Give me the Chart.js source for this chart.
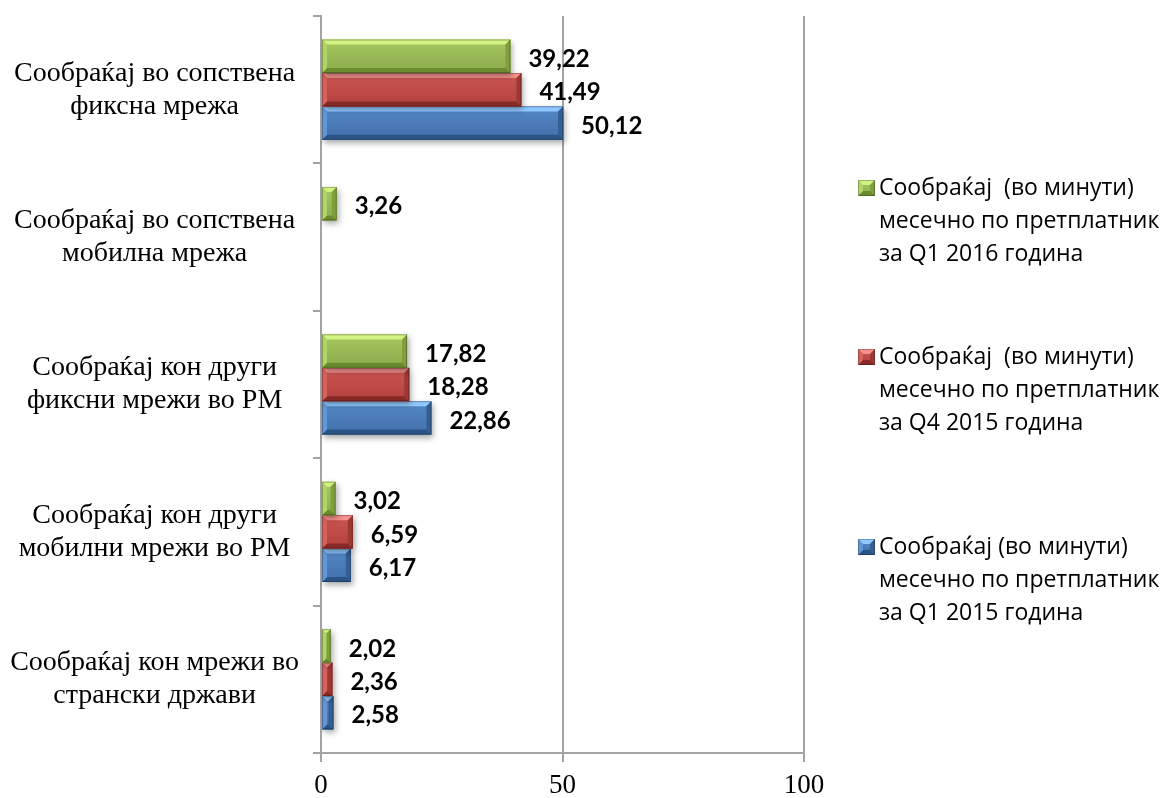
<!DOCTYPE html>
<html>
<head>
<meta charset="utf-8">
<script src="https://cdn.jsdelivr.net/npm/chart.js@4.4.1/dist/chart.umd.min.js"></script>
<style>
  html, body { margin: 0; padding: 0; background: #fff; }
  #wrap { width: 1163px; height: 798px; }
</style>
</head>
<body>
<div id="wrap"><canvas id="chart" width="1163" height="798"></canvas></div>
<script>
// categories (multi-line labels) and series
const categories = [
  ['Сообраќај во сопствена', 'фиксна мрежа'],
  ['Сообраќај во сопствена', 'мобилна мрежа'],
  ['Сообраќај кон други', 'фиксни мрежи во РМ'],
  ['Сообраќај кон други', 'мобилни мрежи во РМ'],
  ['Сообраќај кон мрежи во', 'странски држави']
];
const seriesNames = [
  ['Сообраќај  (во минути)', 'месечно по претплатник', 'за Q1 2016 година'],
  ['Сообраќај  (во минути)', 'месечно по претплатник', 'за Q4 2015 година'],
  ['Сообраќај (во минути)', 'месечно по претплатник', 'за Q1 2015 година']
];
const q1_2016 = [39.22, 3.26, 17.82, 3.02, 2.02];
const q4_2015 = [41.49, null, 18.28, 6.59, 2.36];
const q1_2015 = [50.12, null, 22.86, 6.17, 2.58];
const xTicks = [0, 50, 100];

// styling
const palette = [
  { base: '#9bbb59', top: '#d2f382', bodyTop: '#a6c862', bodyBot: '#8bab49', bottom: '#6a8a2e', right: '#7f9e3e', left: '#b0d46a' },
  { base: '#c0504d', top: '#f7918d', bodyTop: '#cb5653', bodyBot: '#b3413e', bottom: '#862a28', right: '#9e3835', left: '#d6625f' },
  { base: '#4f81bd', top: '#8fc9ff', bodyTop: '#5488c6', bodyBot: '#4270ab', bottom: '#2a5486', right: '#355e93', left: '#6496d6' }
];
const axisGray = '#a3a3a3';
const serif = '"Liberation Serif", "Times New Roman", serif';
const legendRows = [188, 357, 547];
const legendLineH = 33;

function fmt(v) {
  return v.toFixed(2).replace('.', ',');
}

function drawBevel(ctx, L, R, T, B, pal) {
  const w = R - L, h = B - T;
  if (w <= 0 || h <= 0) return;
  const b = Math.min(5, w / 2, h / 2);
  const g = ctx.createLinearGradient(0, T, 0, B);
  g.addColorStop(0, pal.bodyTop);
  g.addColorStop(1, pal.bodyBot);
  ctx.fillStyle = g;
  ctx.fillRect(L, T, w, h);
  const poly = (pts, c) => {
    ctx.beginPath();
    ctx.moveTo(pts[0][0], pts[0][1]);
    for (let i = 1; i < pts.length; i++) ctx.lineTo(pts[i][0], pts[i][1]);
    ctx.closePath();
    ctx.fillStyle = c;
    ctx.fill();
  };
  poly([[L, T], [R, T], [R - b, T + b], [L + b, T + b]], pal.top);
  poly([[L, B], [R, B], [R - b, B - b], [L + b, B - b]], pal.bottom);
  poly([[R, T], [R, B], [R - b, B - b], [R - b, T + b]], pal.right);
  poly([[L, T], [L, B], [L + b, B - b], [L + b, T + b]], pal.left);
  ctx.strokeStyle = 'rgba(0,0,0,0.25)';
  ctx.lineWidth = 1;
  ctx.strokeRect(L + 0.5, T + 0.5, w - 1, h - 1);
}

const bevelPlugin = {
  id: 'bevel',
  beforeDatasetDraw(chart) {
    const ctx = chart.ctx;
    ctx.save();
    ctx.shadowColor = 'rgba(0,0,0,0.35)';
    ctx.shadowBlur = 6;
    ctx.shadowOffsetX = 2;
    ctx.shadowOffsetY = 3;
  },
  afterDatasetDraw(chart, args) {
    const ctx = chart.ctx;
    ctx.restore();
    const pal = palette[args.index];
    ctx.save();
    args.meta.data.forEach(bar => {
      const p = bar.getProps(['x', 'y', 'base', 'height'], true);
      if (bar.skip || !isFinite(p.x)) return;
      drawBevel(ctx, Math.min(p.base, p.x), Math.max(p.base, p.x), p.y - p.height / 2, p.y + p.height / 2, pal);
    });
    ctx.restore();
  }
};

const valueLabels = {
  id: 'valueLabels',
  afterDatasetsDraw(chart) {
    const ctx = chart.ctx;
    ctx.save();
    ctx.font = 'bold 24px Lato, "Open Sans", sans-serif';
    ctx.fillStyle = '#000';
    ctx.textAlign = 'left';
    ctx.textBaseline = 'middle';
    chart.data.datasets.forEach((ds, i) => {
      const meta = chart.getDatasetMeta(i);
      meta.data.forEach((bar, j) => {
        const v = ds.data[j];
        if (v == null) return;
        const p = bar.getProps(['x', 'y'], true);
        ctx.fillText(fmt(v), p.x + 18, p.y + 3);
      });
    });
    ctx.restore();
  }
};

const sideLegend = {
  id: 'sideLegend',
  afterDraw(chart) {
    const ctx = chart.ctx;
    const ca = chart.chartArea;
    const bx = ca.right + 54;
    const tx = ca.right + 75;
    ctx.save();
    ctx.font = '23px "Open Sans", "Noto Sans", sans-serif';
    ctx.textAlign = 'left';
    ctx.textBaseline = 'middle';
    chart.data.datasets.forEach((ds, i) => {
      const y0 = legendRows[i];
      drawBevel(ctx, bx, bx + 17, y0 - 8, y0 + 8, palette[i]);
      ctx.fillStyle = '#000';
      ds.label.forEach((line, k) => {
        ctx.fillText(line, tx, y0 + k * legendLineH);
      });
    });
    ctx.restore();
  }
};

const datasets = [q1_2016, q4_2015, q1_2015].map((vals, i) => ({
  label: seriesNames[i],
  data: vals,
  backgroundColor: palette[i].base,
  borderWidth: 0,
  barPercentage: 1,
  categoryPercentage: 0.68
}));

new Chart(document.getElementById('chart'), {
  type: 'bar',
  data: { labels: categories, datasets: datasets },
  options: {
    indexAxis: 'y',
    responsive: false,
    animation: false,
    devicePixelRatio: 1,
    layout: { padding: { top: 16, right: 359, bottom: 0, left: 0 } },
    plugins: {
      legend: { display: false },
      tooltip: { enabled: false }
    },
    scales: {
      x: {
        min: xTicks[0],
        max: xTicks[xTicks.length - 1],
        afterBuildTicks: s => { s.ticks = xTicks.map(v => ({ value: v })); },
        ticks: {
          color: '#000',
          padding: 10,
          font: { family: serif, size: 27, lineHeight: 1 }
        },
        grid: { color: axisGray, lineWidth: 2, tickLength: 9 },
        border: { color: axisGray, width: 2 },
        afterFit: s => { s.height = 45; s.paddingLeft = 0; s.paddingRight = 0; }
      },
      y: {
        ticks: {
          color: '#000',
          crossAlign: 'center',
          padding: 14,
          font: { family: serif, size: 28, lineHeight: 1.18 }
        },
        grid: { drawOnChartArea: false, offset: true, tickLength: 8, color: axisGray, lineWidth: 2 },
        border: { color: axisGray, width: 2 },
        afterFit: s => { s.width = 321; s.paddingTop = 0; s.paddingBottom = 0; }
      }
    }
  },
  plugins: [bevelPlugin, valueLabels, sideLegend]
});
</script>
</body>
</html>
